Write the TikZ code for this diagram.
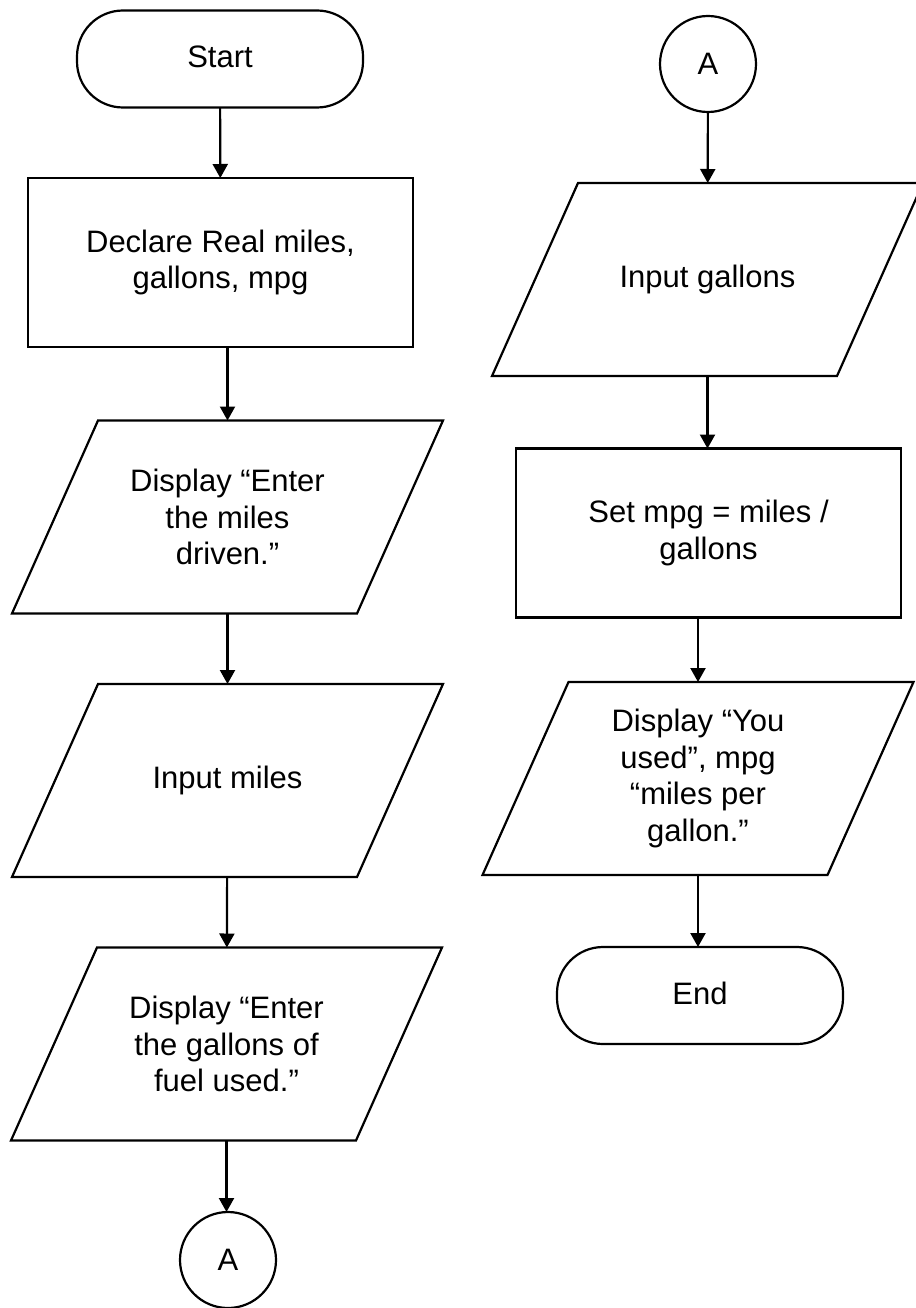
\documentclass[tikz,border=0pt]{standalone}
\usepackage{fontspec}
\setmainfont{Liberation Sans}
\usetikzlibrary{arrows.meta}
\begin{document}
\begin{tikzpicture}[x=1pt,y=-1pt,
  every node/.style={inner sep=0pt,outer sep=0pt,align=center,
    font=\fontsize{31}{36.5}\selectfont},
  shapeline/.style={draw=black,line width=2.2pt,line join=miter},
  term/.style={shapeline,rounded corners=46pt,minimum width=286pt,minimum height=97pt},
  procbox/.style={shapeline,minimum width=385pt,minimum height=169pt},
  iobox/.style={minimum width=431pt,minimum height=193pt},
  conn/.style={shapeline,circle,minimum size=96pt},
  flow/.style={line width=2.2pt,-{Triangle[width=15pt,length=14pt]}}
]
\useasboundingbox (0,0) rectangle (915,1308);
% left column
\node[term]    (start) at (220,59)    {\raisebox{5pt}{Start}};
\node[procbox] (decl)  at (220.5,262.5) {Declare Real miles,\\gallons, mpg};
\node[iobox]   (p1)    at (227.5,517)  {Display “Enter\\the miles\\driven.”};
\node[iobox]   (p2)    at (227.5,780.5) {Input miles};
\node[iobox]   (p3)    at (226.5,1044) {Display “Enter\\the gallons of\\fuel used.”};
\node[conn]    (a1)    at (228,1260)   {A};
% right column
\node[conn]    (a2)    at (708,64)     {A};
\node[iobox]   (p4)    at (707.5,279.5) {Input gallons};
\node[procbox] (set)   at (708.5,533)  {Set mpg = miles /\\gallons};
\node[iobox]   (p5)    at (698,778.5)  {Display “You\\used”, mpg\\“miles per\\gallon.”};
\node[term]    (end)   at (700,995.5)  {\raisebox{5pt}{End}};
% parallelograms
\foreach \n in {p1,p2,p3,p4,p5}
  \draw[shapeline] ([xshift=86pt]\n.north west) -- (\n.north east)
     -- ([xshift=-86pt]\n.south east) -- (\n.south west) -- cycle;
% connectors
\draw[flow] (start) -- (decl);
\draw[flow] (decl.south -| p1.north) -- (p1.north);
\draw[flow] (p1) -- (p2);
\draw[flow] (p2) -- (p3);
\draw[flow] (p3.south) -- (p3.south |- a1.north);
\draw[flow] (a2) -- (p4);
\draw[flow] (p4.south) -- (p4.south |- set.north);
\draw[flow] (set.south -| p5.north) -- (p5.north);
\draw[flow] (p5.south) -- (p5.south |- end.north);
\end{tikzpicture}
\end{document}
